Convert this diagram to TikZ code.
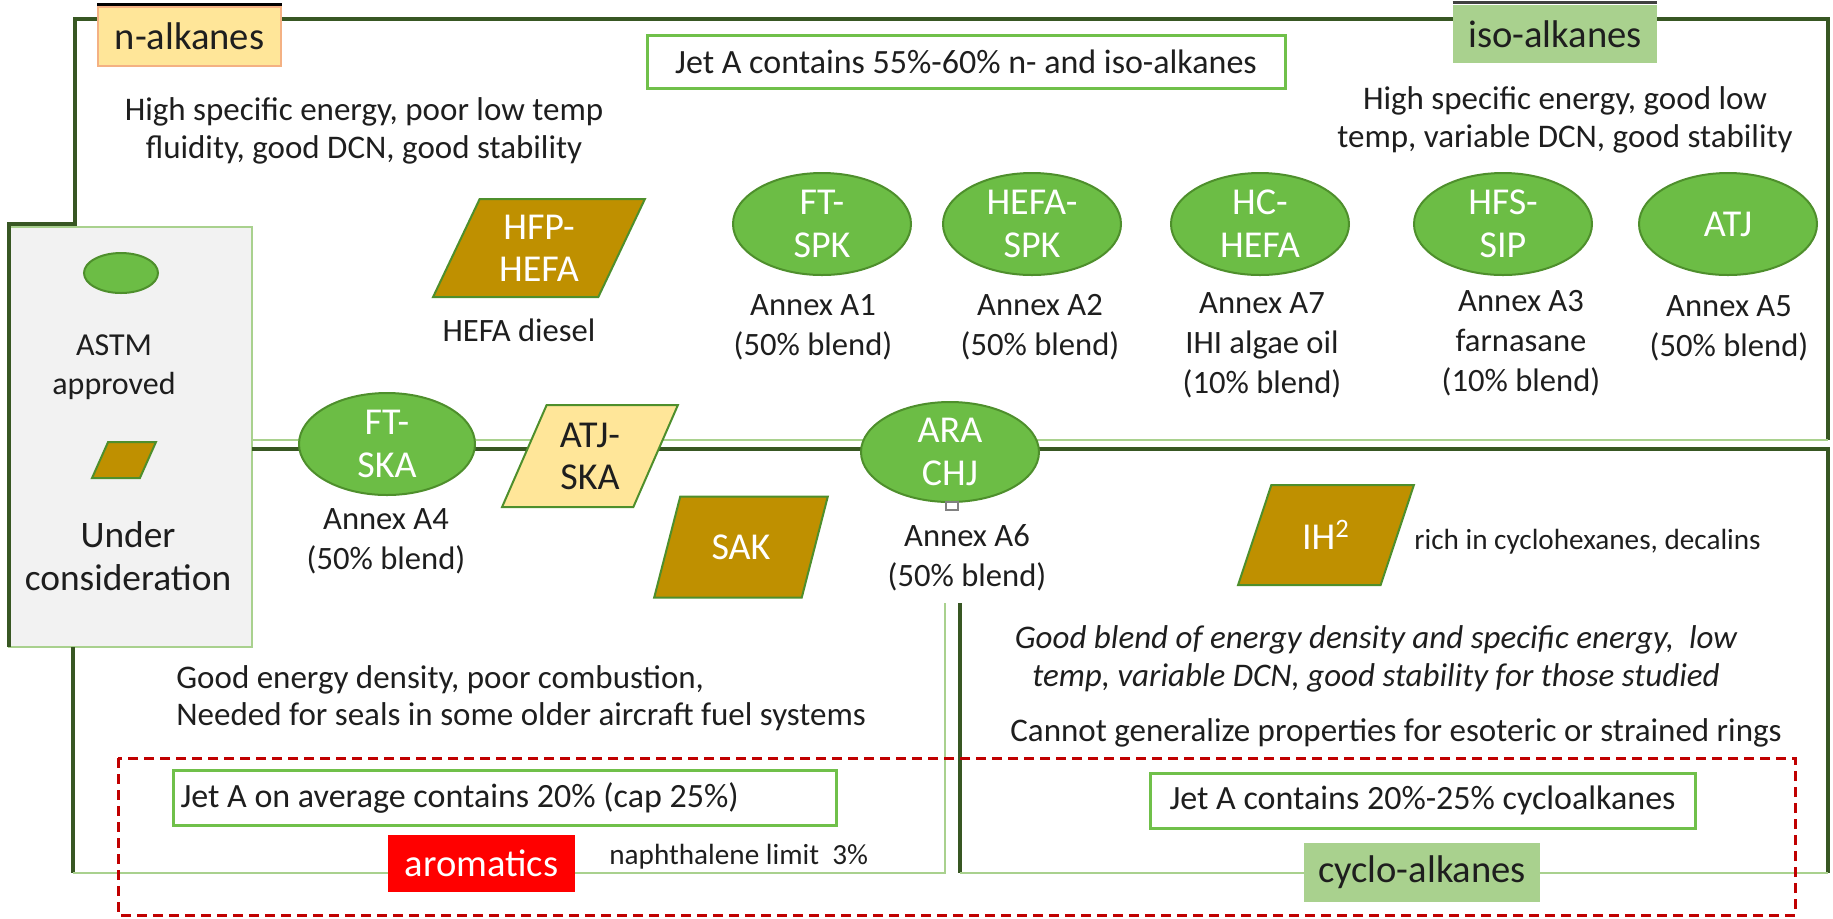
\documentclass[tikz,border=0pt]{standalone}
\usepackage{fontspec}
\setmainfont{Carlito}
\usepackage{xcolor}
\usetikzlibrary{positioning,shapes.geometric}
\definecolor{framedark}{HTML}{385723}
\definecolor{framelight}{HTML}{A9D18E}
\definecolor{approvedfill}{HTML}{6CBD45}
\definecolor{approvededge}{HTML}{4E8F2C}
\definecolor{gold}{HTML}{BF9000}
\definecolor{paleyellow}{HTML}{FFE699}
\definecolor{paleorange}{HTML}{F4B183}
\definecolor{palegreen}{HTML}{A9D18E}
\definecolor{boxgreen}{HTML}{70C04A}
\definecolor{legendgray}{HTML}{F2F2F2}
\definecolor{limitred}{HTML}{C00000}
\definecolor{inktext}{HTML}{1E1E1E}
\tikzset{
  every node/.style={text=inktext,inner sep=0pt},
  darkline/.style={draw=framedark,line width=1.7pt},
  lightline/.style={draw=framelight,line width=1.2pt},
  desc/.style={font=\fontsize{16.5}{19}\selectfont,align=center},
  annex/.style={font=\fontsize{16.3}{20}\selectfont,align=center},
  smalltxt/.style={font=\fontsize{14.6}{17}\selectfont},
  approved/.style={ellipse,draw=approvededge,line width=1pt,fill=approvedfill,text=white,
    font=\fontsize{19}{21.5}\selectfont,align=center,minimum width=89pt,minimum height=51pt},
  pending/.style={trapezium,trapezium left angle=65,trapezium right angle=115,trapezium stretches=true,
    draw=approvededge,line width=1pt,fill=gold,text=white,font=\fontsize{19}{21}\selectfont,align=center,inner sep=1pt},
  classbox/.style={draw=none,font=\fontsize{19.3}{22}\selectfont},
  jetbox/.style={draw=boxgreen,line width=1.5pt,fill=white,font=\fontsize{17}{20}\selectfont},
  limit/.style={draw=limitred,line width=1.5pt,dash pattern=on 5pt off 3pt}
}
\begin{document}
\begin{tikzpicture}[x=0.5pt,y=-0.5pt,node distance=7pt]
  \useasboundingbox (0,0) rectangle (1833,918);

  % legend panel
  \node[draw=framelight,line width=1pt,fill=legendgray,minimum width=121.5pt,minimum height=210pt] (legend) at (130.5,437) {};

  % frame of the three classes
  \draw[darkline] (9,647) -- (9,224) -- (75,224) -- (75,19) -- (1828,19) -- (1828,440);
  \draw[lightline] (252,440) -- (1828,440);
  \draw[darkline] (252,449) -- (1828,449) -- (1828,873);
  \draw[darkline] (73,647) -- (73,873);
  \draw[lightline] (73,873) -- (945,873) -- (945,603);
  \draw[darkline] (960,603) -- (960,873);
  \draw[lightline] (960,873) -- (1828,873);

  % class labels
  \node[classbox,fill=paleyellow,draw=paleorange,line width=1pt,minimum width=91.5pt,minimum height=29.5pt] (nalk) at (189.5,36.5) {n-alkanes};
  \draw[line width=1.5pt] ([yshift=1pt]nalk.north west) -- ([yshift=1pt]nalk.north east);
  \node[classbox,fill=palegreen,minimum width=102pt,minimum height=29pt] (isoalk) at (1555,34) {iso-alkanes};
  \draw[line width=1.2pt,draw=black!75] ([yshift=1pt]isoalk.north west) -- ([yshift=1pt]isoalk.north east);
  \node[jetbox,minimum width=319pt,minimum height=26.5pt] (jetiso) at (966,61.5) {Jet A contains 55\%-60\% n- and iso-alkanes};

  \node[desc] (ndesc) at (364,131) {High specific energy, poor low temp\\fluidity, good DCN, good stability};
  \node[desc] (isodesc) at (1565,120) {High specific energy, good low\\temp, variable DCN, good stability};

  % upper row of pathways
  \node[pending,minimum width=106pt,minimum height=49pt] (hfphefa) at (539,248) {HFP-\\HEFA};
  \node[annex] (hfpnote) at (519,330) {HEFA diesel};
  \node[approved] (ftspk) at (822,224) {FT-\\SPK};
  \node[approved] (hefaspk) at (1032,224) {HEFA-\\SPK};
  \node[approved] (hchefa) at (1260,224) {HC-\\HEFA};
  \node[approved] (hfssip) at (1503,224) {HFS-\\SIP};
  \node[approved] (atj) at (1728,224) {ATJ};
  \node[annex] (annexa1) at (813,327) {Annex A1\\(50\% blend)};
  \node[annex] (annexa2) at (1040,327) {Annex A2\\(50\% blend)};
  \node[annex] (annexa7) at (1262,345) {Annex A7\\IHI algae oil\\(10\% blend)};
  \node[annex] (annexa3) at (1521,343) {Annex A3\\farnasane\\(10\% blend)};
  \node[annex] (annexa5) at (1729,328) {Annex A5\\(50\% blend)};

  % legend
  \node[approved,minimum width=37pt,minimum height=20pt] (keyapproved) at (121,273) {};
  \node[desc,font=\fontsize{16}{19.5}\selectfont] (keyapprovedtxt) at (114,367.5) {ASTM\\approved};
  \node[pending,minimum width=32pt,minimum height=18pt] (keypending) at (124,460) {\phantom{x}};
  \node[desc,font=\fontsize{18.7}{21.5}\selectfont] (keypendingtxt) at (128,556.5) {Under\\consideration};

  % pathways on the dividing line
  \node[approved,minimum width=88pt,minimum height=51pt] (ftska) at (387,444) {FT-\\SKA};
  \node[annex] (annexa4) at (386,541) {Annex A4\\(50\% blend)};
  \node[pending,fill=paleyellow,text=inktext,minimum width=88.5pt,minimum height=51pt] (atjska) at (590,456) {ATJ-\\SKA};
  \node[approved,minimum width=89pt,minimum height=50pt] (arachj) at (950,452) {ARA\\CHJ};
  \node[draw=gray,fill=white,line width=0.6pt,minimum width=6pt,minimum height=4pt] (handle) at (952,506) {};
  \node[annex] (annexa6) at (967,557.5) {Annex A6\\(50\% blend)};
  \node[pending,minimum width=87pt,minimum height=50.5pt] (sak) at (741,547) {SAK};
  \node[pending,minimum width=88pt,minimum height=50pt] (ih2) at (1326,535) {IH\textsuperscript{2}};
  \node[smalltxt,anchor=west] (ih2note) at (1414,542) {rich in cyclohexanes, decalins};

  % aromatics and cyclo-alkanes
  \node[desc,font=\fontsize{16.5}{18.5}\selectfont,align=left,anchor=west] (aromdesc) at (176,698.5) {Good energy density, poor combustion,\\Needed for seals in some older aircraft fuel systems};
  \node[desc,font=\fontsize{16.5}{19}\selectfont\itshape] (cyclodesc) at (1376,659) {Good blend of energy density and specific energy,\ \ low\\temp, variable DCN, good stability for those studied};
  \node[desc] (cyclonote) at (1396,733) {Cannot generalize properties for esoteric or strained rings};

  \draw[limit] (118,758) rectangle (1795,915);
  \node[jetbox,minimum width=331.5pt,minimum height=27.5pt,text width=324pt,align=flush left] (jetarom) at (504.5,797.5) {Jet A on average contains 20\% (cap 25\%)};
  \node[jetbox,minimum width=272.5pt,minimum height=27.5pt] (jetcyclo) at (1422.5,800.5) {Jet A contains 20\%-25\% cycloalkanes};
  \node[classbox,fill=red,text=white,minimum width=93.5pt,minimum height=28.5pt] (arom) at (481.5,863.5) {aromatics};
  \node[smalltxt,anchor=west] (naphnote) at (609,857) {naphthalene limit\ \ 3\%};
  \node[classbox,fill=palegreen,minimum width=118pt,minimum height=29.5pt] (cycloalk) at (1422,872.5) {cyclo-alkanes};
\end{tikzpicture}
\end{document}
